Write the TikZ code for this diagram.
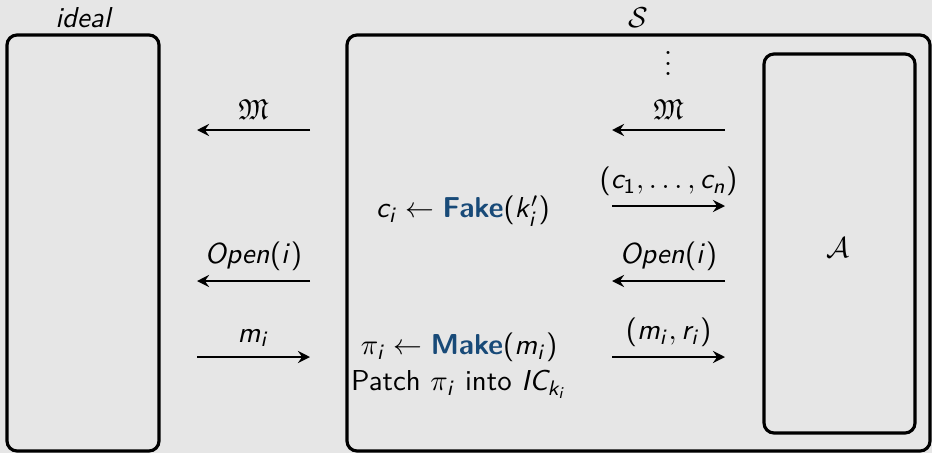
\documentclass[tikz,border=0pt,11pt]{standalone}
\usepackage{amssymb}
\usetikzlibrary{arrows.meta,fit}
\DeclareSymbolFont{sfit}{OT1}{cmss}{m}{sl}
\SetSymbolFont{operators}{normal}{OT1}{cmss}{m}{n}
\SetSymbolFont{operators}{bold}{OT1}{cmss}{bx}{n}
\makeatletter
\count@=`a
\loop
  \mathcode\count@=\numexpr "7000 + \symsfit*"100 + \count@\relax
  \advance\count@ 1
\ifnum\count@<\numexpr`z+1\relax\repeat
\count@=`A
\loop
  \mathcode\count@=\numexpr "7000 + \symsfit*"100 + \count@\relax
  \advance\count@ 1
\ifnum\count@<\numexpr`Z+1\relax\repeat
\makeatother
\definecolor{bgc}{RGB}{230,230,230}
\definecolor{struct}{RGB}{24,74,120}
\newcommand{\alg}[1]{\textcolor{struct}{\textsf{\bfseries #1}}}
\tikzset{
  box/.style={draw=black, line width=1.2pt, rounded corners=3.8pt, inner sep=0pt},
  arr/.style={line width=1.05pt, -{Stealth[length=4.6pt,width=4.6pt,inset=1.6pt]}},
  lbl/.style={above, inner sep=2.5pt, yshift=0.8pt},
  txt/.style={inner sep=0pt, font=\sffamily}
}
\begin{document}
\begin{tikzpicture}[x=0.38pt,y=-0.38pt]
\fill[bgc] (0,0) rectangle (932,453);
\useasboundingbox (0,0) rectangle (932,453);
% boxes
\coordinate (i1) at (7,35);    \coordinate (i2) at (159,451);
\coordinate (s1) at (347,35);  \coordinate (s2) at (930,451);
\coordinate (a1) at (764,54);  \coordinate (a2) at (915,433);
\node[box, fit=(i1)(i2)] (ideal) {};
\node[box, fit=(s1)(s2)] (sim) {};
\node[box, fit=(a1)(a2)] (adv) {};
\node[txt] (adv lbl) at (838,248) {$\mathcal{A}$};
\node[above, inner sep=2pt] (ideal lbl) at (ideal.north) {\sffamily\slshape ideal};
\node[above, inner sep=2pt] (sim lbl) at (sim.north) {$\mathcal{S}$};
% coordinates for arrows
\coordinate (L1r) at (310,130); \coordinate (L1l) at (197,130);
\coordinate (L3r) at (310,281); \coordinate (L3l) at (197,281);
\coordinate (L4r) at (310,357); \coordinate (L4l) at (197,357);
\coordinate (R1r) at (725,130); \coordinate (R1l) at (612,130);
\coordinate (R2r) at (725,206); \coordinate (R2l) at (612,206);
\coordinate (R3r) at (725,281); \coordinate (R3l) at (612,281);
\coordinate (R4r) at (725,357); \coordinate (R4l) at (612,357);
% arrows
\draw[arr] (L1r) -- node[lbl] (l1) {$\mathfrak{M}$} (L1l);
\draw[arr] (L3r) -- node[lbl] (l3) {$Open(i)$} (L3l);
\draw[arr] (L4l) -- node[lbl] (l4) {$m_i$} (L4r);
\draw[arr] (R1r) -- node[lbl] (r1) {$\mathfrak{M}$} (R1l);
\draw[arr] (R2l) -- node[lbl] (r2) {$(c_1,\ldots,c_n)$} (R2r);
\draw[arr] (R3r) -- node[lbl] (r3) {$Open(i)$} (R3l);
\draw[arr] (R4l) -- node[lbl] (r4) {$(m_i,r_i)$} (R4r);
\node[inner sep=0pt] (dots) at (668,56) {$\vdots$};
% simulator text
\node[txt] (fake) at (463,211) {$c_i \leftarrow \alg{Fake}(k'_i)$};
\node[txt, align=center] (make) at (459,366) {$\pi_i \leftarrow \alg{Make}(m_i)$\\Patch $\pi_i$ into $IC_{k_i}$};
\end{tikzpicture}
\end{document}
